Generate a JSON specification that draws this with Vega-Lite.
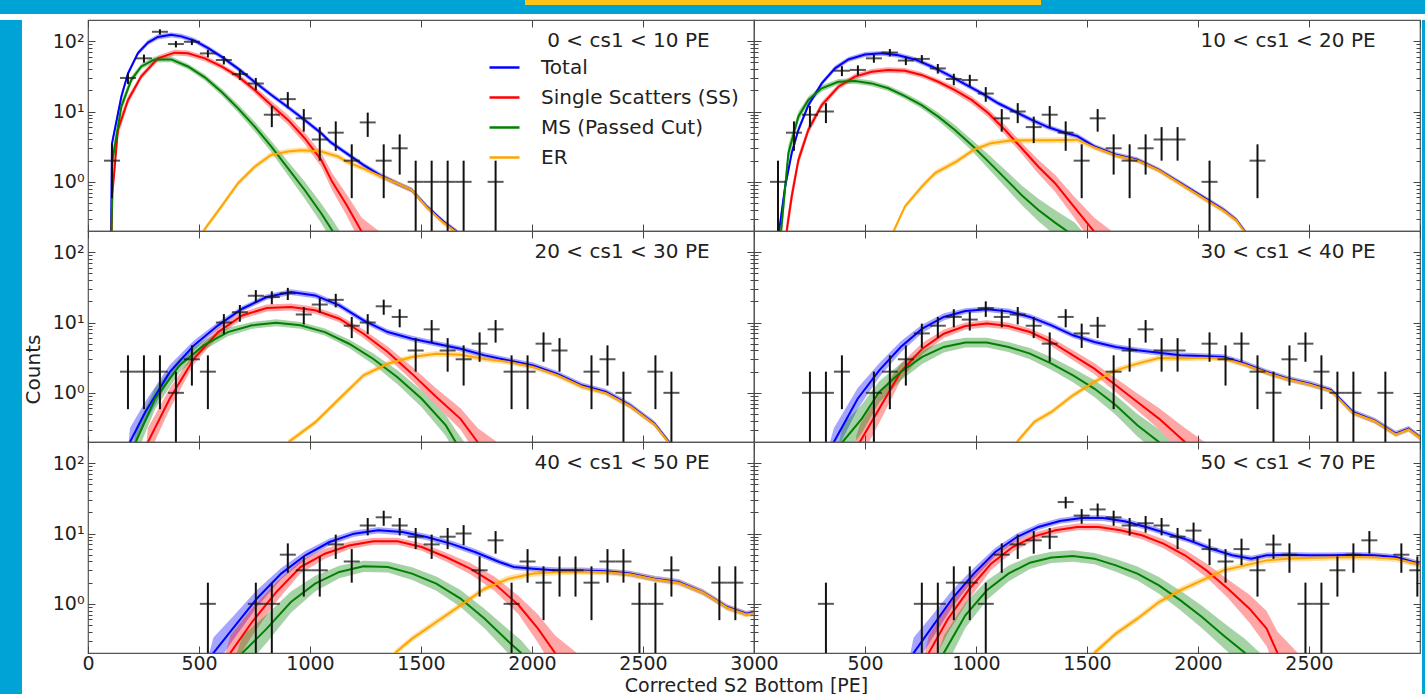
{
"$schema": "https://vega.github.io/schema/vega-lite/v6.json",
"background": "white",
"padding": 0,
"datasets": {
"labels": [
{"p":1,"label":"0 < cs1 < 10 PE"},{"p":2,"label":"10 < cs1 < 20 PE"},{"p":3,"label":"20 < cs1 < 30 PE"},
{"p":4,"label":"30 < cs1 < 40 PE"},{"p":5,"label":"40 < cs1 < 50 PE"},{"p":6,"label":"50 < cs1 < 70 PE"}],
"points": [
{"p":1,"x":108,"n":2,"lo":0.586,"hi":3.414},{"p":1,"x":180,"n":30,"lo":24.52,"hi":35.48},{"p":1,"x":252,"n":57,"lo":49.45,"hi":64.55},{"p":1,"x":324,"n":136,"lo":124.3,"hi":147.7},{"p":1,"x":396,"n":91,"lo":81.46,"hi":100.5},{"p":1,"x":468,"n":98,"lo":88.1,"hi":107.9},{"p":1,"x":540,"n":67,"lo":58.82,"hi":75.18},{"p":1,"x":612,"n":54,"lo":46.65,"hi":61.35},{"p":1,"x":684,"n":34,"lo":28.17,"hi":39.83},{"p":1,"x":756,"n":25,"lo":20,"hi":30},{"p":1,"x":828,"n":9,"lo":6,"hi":12},{"p":1,"x":900,"n":15,"lo":11.13,"hi":18.87},{"p":1,"x":972,"n":8,"lo":5.172,"hi":10.83},{"p":1,"x":1044,"n":4,"lo":2,"hi":6},{"p":1,"x":1116,"n":5,"lo":2.764,"hi":7.236},{"p":1,"x":1188,"n":2,"lo":0.586,"hi":3.414},{"p":1,"x":1260,"n":7,"lo":4.354,"hi":9.646},{"p":1,"x":1332,"n":2,"lo":0.586,"hi":3.414},{"p":1,"x":1404,"n":3,"lo":1.268,"hi":4.732},{"p":1,"x":1476,"n":1,"lo":0.01,"hi":2},{"p":1,"x":1548,"n":1,"lo":0.01,"hi":2},{"p":1,"x":1620,"n":1,"lo":0.01,"hi":2},{"p":1,"x":1692,"n":1,"lo":0.01,"hi":2},{"p":1,"x":1836,"n":1,"lo":0.01,"hi":2},
{"p":2,"x":108,"n":1,"lo":0.01,"hi":2},{"p":2,"x":180,"n":5,"lo":2.764,"hi":7.236},{"p":2,"x":252,"n":9,"lo":6,"hi":12},{"p":2,"x":324,"n":10,"lo":6.838,"hi":13.16},{"p":2,"x":396,"n":38,"lo":31.84,"hi":44.16},{"p":2,"x":468,"n":39,"lo":32.76,"hi":45.24},{"p":2,"x":540,"n":57,"lo":49.45,"hi":64.55},{"p":2,"x":612,"n":69,"lo":60.69,"hi":77.31},{"p":2,"x":684,"n":53,"lo":45.72,"hi":60.28},{"p":2,"x":756,"n":56,"lo":48.52,"hi":63.48},{"p":2,"x":828,"n":41,"lo":34.6,"hi":47.4},{"p":2,"x":900,"n":29,"lo":23.61,"hi":34.39},{"p":2,"x":972,"n":28,"lo":22.71,"hi":33.29},{"p":2,"x":1044,"n":18,"lo":13.76,"hi":22.24},{"p":2,"x":1116,"n":8,"lo":5.172,"hi":10.83},{"p":2,"x":1188,"n":10,"lo":6.838,"hi":13.16},{"p":2,"x":1260,"n":6,"lo":3.551,"hi":8.449},{"p":2,"x":1332,"n":9,"lo":6,"hi":12},{"p":2,"x":1404,"n":5,"lo":2.764,"hi":7.236},{"p":2,"x":1476,"n":2,"lo":0.586,"hi":3.414},{"p":2,"x":1548,"n":8,"lo":5.172,"hi":10.83},{"p":2,"x":1620,"n":3,"lo":1.268,"hi":4.732},{"p":2,"x":1692,"n":2,"lo":0.586,"hi":3.414},{"p":2,"x":1764,"n":3,"lo":1.268,"hi":4.732},{"p":2,"x":1836,"n":4,"lo":2,"hi":6},{"p":2,"x":1908,"n":4,"lo":2,"hi":6},{"p":2,"x":2052,"n":1,"lo":0.01,"hi":2},{"p":2,"x":2268,"n":2,"lo":0.586,"hi":3.414},
{"p":3,"x":180,"n":2,"lo":0.586,"hi":3.414},{"p":3,"x":252,"n":2,"lo":0.586,"hi":3.414},{"p":3,"x":324,"n":2,"lo":0.586,"hi":3.414},{"p":3,"x":396,"n":1,"lo":0.01,"hi":2},{"p":3,"x":468,"n":3,"lo":1.268,"hi":4.732},{"p":3,"x":540,"n":2,"lo":0.586,"hi":3.414},{"p":3,"x":612,"n":10,"lo":6.838,"hi":13.16},{"p":3,"x":684,"n":14,"lo":10.26,"hi":17.74},{"p":3,"x":756,"n":24,"lo":19.1,"hi":28.9},{"p":3,"x":828,"n":23,"lo":18.2,"hi":27.8},{"p":3,"x":900,"n":26,"lo":20.9,"hi":31.1},{"p":3,"x":972,"n":13,"lo":9.394,"hi":16.61},{"p":3,"x":1044,"n":18,"lo":13.76,"hi":22.24},{"p":3,"x":1116,"n":21,"lo":16.42,"hi":25.58},{"p":3,"x":1188,"n":9,"lo":6,"hi":12},{"p":3,"x":1260,"n":10,"lo":6.838,"hi":13.16},{"p":3,"x":1332,"n":17,"lo":12.88,"hi":21.12},{"p":3,"x":1404,"n":12,"lo":8.536,"hi":15.46},{"p":3,"x":1476,"n":4,"lo":2,"hi":6},{"p":3,"x":1548,"n":8,"lo":5.172,"hi":10.83},{"p":3,"x":1620,"n":4,"lo":2,"hi":6},{"p":3,"x":1692,"n":3,"lo":1.268,"hi":4.732},{"p":3,"x":1764,"n":5,"lo":2.764,"hi":7.236},{"p":3,"x":1836,"n":8,"lo":5.172,"hi":10.83},{"p":3,"x":1908,"n":2,"lo":0.586,"hi":3.414},{"p":3,"x":1980,"n":2,"lo":0.586,"hi":3.414},{"p":3,"x":2052,"n":5,"lo":2.764,"hi":7.236},{"p":3,"x":2124,"n":4,"lo":2,"hi":6},{"p":3,"x":2268,"n":2,"lo":0.586,"hi":3.414},{"p":3,"x":2340,"n":3,"lo":1.268,"hi":4.732},{"p":3,"x":2412,"n":1,"lo":0.01,"hi":2},{"p":3,"x":2556,"n":2,"lo":0.586,"hi":3.414},{"p":3,"x":2628,"n":1,"lo":0.01,"hi":2},
{"p":4,"x":252,"n":1,"lo":0.01,"hi":2},{"p":4,"x":324,"n":1,"lo":0.01,"hi":2},{"p":4,"x":396,"n":2,"lo":0.586,"hi":3.414},{"p":4,"x":540,"n":1,"lo":0.01,"hi":2},{"p":4,"x":612,"n":2,"lo":0.586,"hi":3.414},{"p":4,"x":684,"n":3,"lo":1.268,"hi":4.732},{"p":4,"x":756,"n":7,"lo":4.354,"hi":9.646},{"p":4,"x":828,"n":9,"lo":6,"hi":12},{"p":4,"x":900,"n":12,"lo":8.536,"hi":15.46},{"p":4,"x":972,"n":11,"lo":7.683,"hi":14.32},{"p":4,"x":1044,"n":16,"lo":12,"hi":20},{"p":4,"x":1116,"n":12,"lo":8.536,"hi":15.46},{"p":4,"x":1188,"n":13,"lo":9.394,"hi":16.61},{"p":4,"x":1260,"n":9,"lo":6,"hi":12},{"p":4,"x":1332,"n":5,"lo":2.764,"hi":7.236},{"p":4,"x":1404,"n":12,"lo":8.536,"hi":15.46},{"p":4,"x":1476,"n":7,"lo":4.354,"hi":9.646},{"p":4,"x":1548,"n":9,"lo":6,"hi":12},{"p":4,"x":1620,"n":2,"lo":0.586,"hi":3.414},{"p":4,"x":1692,"n":4,"lo":2,"hi":6},{"p":4,"x":1764,"n":8,"lo":5.172,"hi":10.83},{"p":4,"x":1836,"n":4,"lo":2,"hi":6},{"p":4,"x":1908,"n":4,"lo":2,"hi":6},{"p":4,"x":2052,"n":5,"lo":2.764,"hi":7.236},{"p":4,"x":2124,"n":3,"lo":1.268,"hi":4.732},{"p":4,"x":2196,"n":5,"lo":2.764,"hi":7.236},{"p":4,"x":2268,"n":2,"lo":0.586,"hi":3.414},{"p":4,"x":2340,"n":1,"lo":0.01,"hi":2},{"p":4,"x":2412,"n":3,"lo":1.268,"hi":4.732},{"p":4,"x":2484,"n":5,"lo":2.764,"hi":7.236},{"p":4,"x":2556,"n":2,"lo":0.586,"hi":3.414},{"p":4,"x":2628,"n":1,"lo":0.01,"hi":2},{"p":4,"x":2700,"n":1,"lo":0.01,"hi":2},{"p":4,"x":2844,"n":1,"lo":0.01,"hi":2},
{"p":5,"x":540,"n":1,"lo":0.01,"hi":2},{"p":5,"x":756,"n":1,"lo":0.01,"hi":2},{"p":5,"x":828,"n":1,"lo":0.01,"hi":2},{"p":5,"x":900,"n":5,"lo":2.764,"hi":7.236},{"p":5,"x":972,"n":3,"lo":1.268,"hi":4.732},{"p":5,"x":1044,"n":3,"lo":1.268,"hi":4.732},{"p":5,"x":1116,"n":7,"lo":4.354,"hi":9.646},{"p":5,"x":1188,"n":4,"lo":2,"hi":6},{"p":5,"x":1260,"n":13,"lo":9.394,"hi":16.61},{"p":5,"x":1332,"n":17,"lo":12.88,"hi":21.12},{"p":5,"x":1404,"n":13,"lo":9.394,"hi":16.61},{"p":5,"x":1476,"n":9,"lo":6,"hi":12},{"p":5,"x":1548,"n":7,"lo":4.354,"hi":9.646},{"p":5,"x":1620,"n":9,"lo":6,"hi":12},{"p":5,"x":1692,"n":10,"lo":6.838,"hi":13.16},{"p":5,"x":1764,"n":3,"lo":1.268,"hi":4.732},{"p":5,"x":1836,"n":8,"lo":5.172,"hi":10.83},{"p":5,"x":1908,"n":1,"lo":0.01,"hi":2},{"p":5,"x":1980,"n":4,"lo":2,"hi":6},{"p":5,"x":2052,"n":2,"lo":0.586,"hi":3.414},{"p":5,"x":2124,"n":3,"lo":1.268,"hi":4.732},{"p":5,"x":2196,"n":3,"lo":1.268,"hi":4.732},{"p":5,"x":2268,"n":2,"lo":0.586,"hi":3.414},{"p":5,"x":2340,"n":4,"lo":2,"hi":6},{"p":5,"x":2412,"n":4,"lo":2,"hi":6},{"p":5,"x":2484,"n":1,"lo":0.01,"hi":2},{"p":5,"x":2556,"n":1,"lo":0.01,"hi":2},{"p":5,"x":2628,"n":3,"lo":1.268,"hi":4.732},{"p":5,"x":2844,"n":2,"lo":0.586,"hi":3.414},{"p":5,"x":2916,"n":2,"lo":0.586,"hi":3.414},
{"p":6,"x":324,"n":1,"lo":0.01,"hi":2},{"p":6,"x":756,"n":1,"lo":0.01,"hi":2},{"p":6,"x":828,"n":1,"lo":0.01,"hi":2},{"p":6,"x":900,"n":2,"lo":0.586,"hi":3.414},{"p":6,"x":972,"n":2,"lo":0.586,"hi":3.414},{"p":6,"x":1044,"n":1,"lo":0.01,"hi":2},{"p":6,"x":1116,"n":5,"lo":2.764,"hi":7.236},{"p":6,"x":1188,"n":7,"lo":4.354,"hi":9.646},{"p":6,"x":1260,"n":8,"lo":5.172,"hi":10.83},{"p":6,"x":1332,"n":9,"lo":6,"hi":12},{"p":6,"x":1404,"n":28,"lo":22.71,"hi":33.29},{"p":6,"x":1476,"n":18,"lo":13.76,"hi":22.24},{"p":6,"x":1548,"n":22,"lo":17.31,"hi":26.69},{"p":6,"x":1620,"n":17,"lo":12.88,"hi":21.12},{"p":6,"x":1692,"n":13,"lo":9.394,"hi":16.61},{"p":6,"x":1764,"n":14,"lo":10.26,"hi":17.74},{"p":6,"x":1836,"n":13,"lo":9.394,"hi":16.61},{"p":6,"x":1908,"n":9,"lo":6,"hi":12},{"p":6,"x":1980,"n":11,"lo":7.683,"hi":14.32},{"p":6,"x":2052,"n":6,"lo":3.551,"hi":8.449},{"p":6,"x":2124,"n":4,"lo":2,"hi":6},{"p":6,"x":2196,"n":6,"lo":3.551,"hi":8.449},{"p":6,"x":2268,"n":3,"lo":1.268,"hi":4.732},{"p":6,"x":2340,"n":7,"lo":4.354,"hi":9.646},{"p":6,"x":2412,"n":5,"lo":2.764,"hi":7.236},{"p":6,"x":2484,"n":1,"lo":0.01,"hi":2},{"p":6,"x":2556,"n":1,"lo":0.01,"hi":2},{"p":6,"x":2628,"n":3,"lo":1.268,"hi":4.732},{"p":6,"x":2700,"n":5,"lo":2.764,"hi":7.236},{"p":6,"x":2772,"n":8,"lo":5.172,"hi":10.83},{"p":6,"x":2916,"n":5,"lo":2.764,"hi":7.236},{"p":6,"x":2988,"n":3,"lo":1.268,"hi":4.732}
],
"curves": [
{"p":1,"s":"Total","x":102,"y":0.05,"lo":0.045,"hi":0.055},{"p":1,"s":"Total","x":108,"y":3.5,"lo":3.05,"hi":4.02},{"p":1,"s":"Total","x":150,"y":16.2,"lo":14.1,"hi":18.6},{"p":1,"s":"Total","x":180,"y":34.7,"lo":31.5,"hi":38.2},{"p":1,"s":"Total","x":225,"y":67.6,"lo":62.4,"hi":73.3},{"p":1,"s":"Total","x":270,"y":95.5,"lo":88.1,"hi":103.5},{"p":1,"s":"Total","x":315,"y":115,"lo":106,"hi":125},{"p":1,"s":"Total","x":375,"y":123,"lo":113,"hi":133},{"p":1,"s":"Total","x":420,"y":117,"lo":108,"hi":127},{"p":1,"s":"Total","x":480,"y":102,"lo":94.1,"hi":110.6},{"p":1,"s":"Total","x":541,"y":79.4,"lo":73.2,"hi":86.1},{"p":1,"s":"Total","x":601,"y":60.3,"lo":55.6,"hi":65.4},{"p":1,"s":"Total","x":676,"y":40.7,"lo":37.5,"hi":44.1},{"p":1,"s":"Total","x":751,"y":26.3,"lo":24.3,"hi":28.5},{"p":1,"s":"Total","x":826,"y":17.2,"lo":15.9,"hi":18.6},{"p":1,"s":"Total","x":901,"y":11.5,"lo":10.6,"hi":12.5},{"p":1,"s":"Total","x":976,"y":7.59,"lo":7.0,"hi":8.23},{"p":1,"s":"Total","x":1051,"y":4.9,"lo":4.52,"hi":5.31},{"p":1,"s":"Total","x":1090,"y":3.72,"lo":3.43,"hi":4.03},{"p":1,"s":"Total","x":1165,"y":2.54,"lo":2.34,"hi":2.75},{"p":1,"s":"Total","x":1240,"y":1.74,"lo":1.61,"hi":1.89},{"p":1,"s":"Total","x":1315,"y":1.25,"lo":1.15,"hi":1.36},{"p":1,"s":"Total","x":1390,"y":0.955,"lo":0.88,"hi":1.035},{"p":1,"s":"Total","x":1458,"y":0.766,"lo":0.707,"hi":0.83},{"p":1,"s":"Total","x":1526,"y":0.447,"lo":0.412,"hi":0.485},{"p":1,"s":"Total","x":1601,"y":0.272,"lo":0.251,"hi":0.295},{"p":1,"s":"Total","x":1661,"y":0.195,"lo":0.18,"hi":0.211},{"p":1,"s":"Total","x":1700,"y":0.14,"lo":0.129,"hi":0.152},
{"p":1,"s":"Single Scatters (SS)","x":104,"y":0.1,"lo":0.08,"hi":0.125},{"p":1,"s":"Single Scatters (SS)","x":110,"y":0.69,"lo":0.49,"hi":0.97},{"p":1,"s":"Single Scatters (SS)","x":135,"y":5.5,"lo":4.37,"hi":6.92},{"p":1,"s":"Single Scatters (SS)","x":180,"y":14.5,"lo":12.6,"hi":16.6},{"p":1,"s":"Single Scatters (SS)","x":240,"y":31.6,"lo":28.8,"hi":34.6},{"p":1,"s":"Single Scatters (SS)","x":315,"y":57,"lo":52,"hi":62.5},{"p":1,"s":"Single Scatters (SS)","x":390,"y":68.7,"lo":62.7,"hi":75.3},{"p":1,"s":"Single Scatters (SS)","x":450,"y":67.1,"lo":61.2,"hi":73.5},{"p":1,"s":"Single Scatters (SS)","x":526,"y":57,"lo":52,"hi":62.5},{"p":1,"s":"Single Scatters (SS)","x":601,"y":43.7,"lo":39.9,"hi":47.9},{"p":1,"s":"Single Scatters (SS)","x":676,"y":31.6,"lo":28.8,"hi":34.6},{"p":1,"s":"Single Scatters (SS)","x":751,"y":20.2,"lo":18.0,"hi":22.7},{"p":1,"s":"Single Scatters (SS)","x":826,"y":12.3,"lo":10.7,"hi":14.1},{"p":1,"s":"Single Scatters (SS)","x":901,"y":7.59,"lo":6.46,"hi":8.91},{"p":1,"s":"Single Scatters (SS)","x":976,"y":4.17,"lo":3.47,"hi":5.01},{"p":1,"s":"Single Scatters (SS)","x":1051,"y":2.04,"lo":1.62,"hi":2.57},{"p":1,"s":"Single Scatters (SS)","x":1100,"y":1.0,"lo":0.759,"hi":1.32},{"p":1,"s":"Single Scatters (SS)","x":1165,"y":0.47,"lo":0.333,"hi":0.664},{"p":1,"s":"Single Scatters (SS)","x":1233,"y":0.195,"lo":0.123,"hi":0.309},{"p":1,"s":"Single Scatters (SS)","x":1310,"y":0.08,"lo":0.04,"hi":0.2},
{"p":1,"s":"MS (Passed Cut)","x":104,"y":0.05,"lo":0.04,"hi":0.06},{"p":1,"s":"MS (Passed Cut)","x":110,"y":2.0,"lo":1.42,"hi":2.83},{"p":1,"s":"MS (Passed Cut)","x":150,"y":11.7,"lo":9.73,"hi":14.1},{"p":1,"s":"MS (Passed Cut)","x":195,"y":28.2,"lo":25.1,"hi":31.6},{"p":1,"s":"MS (Passed Cut)","x":240,"y":43.7,"lo":39.9,"hi":47.9},{"p":1,"s":"MS (Passed Cut)","x":300,"y":55,"lo":50.2,"hi":60.3},{"p":1,"s":"MS (Passed Cut)","x":375,"y":55,"lo":50.2,"hi":60.3},{"p":1,"s":"MS (Passed Cut)","x":450,"y":43.7,"lo":39.9,"hi":47.9},{"p":1,"s":"MS (Passed Cut)","x":526,"y":30.6,"lo":27.6,"hi":33.9},{"p":1,"s":"MS (Passed Cut)","x":601,"y":19.1,"lo":17.0,"hi":21.4},{"p":1,"s":"MS (Passed Cut)","x":676,"y":11.1,"lo":9.67,"hi":12.7},{"p":1,"s":"MS (Passed Cut)","x":751,"y":6.1,"lo":5.19,"hi":7.17},{"p":1,"s":"MS (Passed Cut)","x":826,"y":3.16,"lo":2.63,"hi":3.8},{"p":1,"s":"MS (Passed Cut)","x":901,"y":1.55,"lo":1.23,"hi":1.95},{"p":1,"s":"MS (Passed Cut)","x":976,"y":0.766,"lo":0.581,"hi":1.01},{"p":1,"s":"MS (Passed Cut)","x":1051,"y":0.355,"lo":0.257,"hi":0.49},{"p":1,"s":"MS (Passed Cut)","x":1104,"y":0.195,"lo":0.135,"hi":0.282},{"p":1,"s":"MS (Passed Cut)","x":1150,"y":0.11,"lo":0.073,"hi":0.166},
{"p":1,"s":"ER","x":500,"y":0.1,"lo":0.091,"hi":0.11},{"p":1,"s":"ER","x":518,"y":0.195,"lo":0.178,"hi":0.214},{"p":1,"s":"ER","x":540,"y":0.245,"lo":0.224,"hi":0.269},{"p":1,"s":"ER","x":601,"y":0.447,"lo":0.408,"hi":0.49},{"p":1,"s":"ER","x":676,"y":0.955,"lo":0.871,"hi":1.047},{"p":1,"s":"ER","x":751,"y":1.64,"lo":1.5,"hi":1.8},{"p":1,"s":"ER","x":823,"y":2.4,"lo":2.19,"hi":2.63},{"p":1,"s":"ER","x":901,"y":2.69,"lo":2.45,"hi":2.95},{"p":1,"s":"ER","x":961,"y":2.82,"lo":2.57,"hi":3.09},{"p":1,"s":"ER","x":1051,"y":2.69,"lo":2.45,"hi":2.95},{"p":1,"s":"ER","x":1126,"y":2.29,"lo":2.09,"hi":2.51},{"p":1,"s":"ER","x":1165,"y":1.94,"lo":1.77,"hi":2.13},{"p":1,"s":"ER","x":1240,"y":1.55,"lo":1.41,"hi":1.7},{"p":1,"s":"ER","x":1315,"y":1.21,"lo":1.1,"hi":1.33},{"p":1,"s":"ER","x":1390,"y":0.955,"lo":0.871,"hi":1.047},{"p":1,"s":"ER","x":1458,"y":0.766,"lo":0.699,"hi":0.84},{"p":1,"s":"ER","x":1526,"y":0.436,"lo":0.398,"hi":0.478},{"p":1,"s":"ER","x":1601,"y":0.263,"lo":0.24,"hi":0.288},{"p":1,"s":"ER","x":1661,"y":0.19,"lo":0.173,"hi":0.208},{"p":1,"s":"ER","x":1700,"y":0.135,"lo":0.123,"hi":0.148},
{"p":2,"s":"Total","x":108,"y":0.05,"lo":0.045,"hi":0.055},{"p":2,"s":"Total","x":113,"y":0.2,"lo":0.17,"hi":0.235},{"p":2,"s":"Total","x":140,"y":0.85,"lo":0.707,"hi":1.02},{"p":2,"s":"Total","x":170,"y":2.57,"lo":2.24,"hi":2.95},{"p":2,"s":"Total","x":200,"y":5.5,"lo":4.9,"hi":6.17},{"p":2,"s":"Total","x":245,"y":12.3,"lo":11.2,"hi":13.5},{"p":2,"s":"Total","x":305,"y":25.1,"lo":23.2,"hi":27.2},{"p":2,"s":"Total","x":365,"y":41.1,"lo":37.9,"hi":44.6},{"p":2,"s":"Total","x":425,"y":55,"lo":50.7,"hi":59.6},{"p":2,"s":"Total","x":500,"y":64.6,"lo":59.6,"hi":70},{"p":2,"s":"Total","x":575,"y":67.1,"lo":61.9,"hi":72.7},{"p":2,"s":"Total","x":650,"y":63.1,"lo":58.2,"hi":68.4},{"p":2,"s":"Total","x":725,"y":55,"lo":50.7,"hi":59.6},{"p":2,"s":"Total","x":800,"y":43.7,"lo":40.3,"hi":47.4},{"p":2,"s":"Total","x":875,"y":33.1,"lo":30.5,"hi":35.9},{"p":2,"s":"Total","x":950,"y":24.5,"lo":22.6,"hi":26.6},{"p":2,"s":"Total","x":1025,"y":18.2,"lo":16.8,"hi":19.7},{"p":2,"s":"Total","x":1100,"y":13.1,"lo":12.1,"hi":14.2},{"p":2,"s":"Total","x":1176,"y":9.95,"lo":9.18,"hi":10.8},{"p":2,"s":"Total","x":1251,"y":7.59,"lo":7.0,"hi":8.23},{"p":2,"s":"Total","x":1326,"y":5.96,"lo":5.5,"hi":6.46},{"p":2,"s":"Total","x":1400,"y":5.0,"lo":4.61,"hi":5.42},{"p":2,"s":"Total","x":1456,"y":4.47,"lo":4.12,"hi":4.85},{"p":2,"s":"Total","x":1533,"y":3.19,"lo":2.94,"hi":3.46},{"p":2,"s":"Total","x":1630,"y":2.43,"lo":2.24,"hi":2.63},{"p":2,"s":"Total","x":1727,"y":2.06,"lo":1.9,"hi":2.23},{"p":2,"s":"Total","x":1824,"y":1.48,"lo":1.37,"hi":1.6},{"p":2,"s":"Total","x":1921,"y":0.96,"lo":0.886,"hi":1.04},{"p":2,"s":"Total","x":2018,"y":0.62,"lo":0.572,"hi":0.672},{"p":2,"s":"Total","x":2115,"y":0.4,"lo":0.369,"hi":0.434},{"p":2,"s":"Total","x":2173,"y":0.288,"lo":0.266,"hi":0.312},{"p":2,"s":"Total","x":2212,"y":0.195,"lo":0.18,"hi":0.211},{"p":2,"s":"Total","x":2240,"y":0.14,"lo":0.129,"hi":0.152},
{"p":2,"s":"Single Scatters (SS)","x":140,"y":0.05,"lo":0.04,"hi":0.063},{"p":2,"s":"Single Scatters (SS)","x":147,"y":0.2,"lo":0.142,"hi":0.283},{"p":2,"s":"Single Scatters (SS)","x":170,"y":0.62,"lo":0.47,"hi":0.817},{"p":2,"s":"Single Scatters (SS)","x":200,"y":2.04,"lo":1.7,"hi":2.45},{"p":2,"s":"Single Scatters (SS)","x":245,"y":5.5,"lo":4.79,"hi":6.31},{"p":2,"s":"Single Scatters (SS)","x":305,"y":12.3,"lo":11.0,"hi":13.8},{"p":2,"s":"Single Scatters (SS)","x":380,"y":22.5,"lo":20.5,"hi":24.7},{"p":2,"s":"Single Scatters (SS)","x":455,"y":31.3,"lo":28.6,"hi":34.3},{"p":2,"s":"Single Scatters (SS)","x":530,"y":36.8,"lo":33.6,"hi":40.3},{"p":2,"s":"Single Scatters (SS)","x":605,"y":38.9,"lo":35.5,"hi":42.6},{"p":2,"s":"Single Scatters (SS)","x":680,"y":38,"lo":34.7,"hi":41.6},{"p":2,"s":"Single Scatters (SS)","x":755,"y":33.1,"lo":30.2,"hi":36.3},{"p":2,"s":"Single Scatters (SS)","x":830,"y":26.5,"lo":24.2,"hi":29},{"p":2,"s":"Single Scatters (SS)","x":905,"y":20.2,"lo":18,"hi":22.7},{"p":2,"s":"Single Scatters (SS)","x":980,"y":14.6,"lo":12.9,"hi":16.5},{"p":2,"s":"Single Scatters (SS)","x":1056,"y":9.42,"lo":8.2,"hi":10.8},{"p":2,"s":"Single Scatters (SS)","x":1131,"y":5.46,"lo":4.65,"hi":6.41},{"p":2,"s":"Single Scatters (SS)","x":1206,"y":3.0,"lo":2.5,"hi":3.6},{"p":2,"s":"Single Scatters (SS)","x":1281,"y":1.64,"lo":1.3,"hi":2.06},{"p":2,"s":"Single Scatters (SS)","x":1356,"y":0.955,"lo":0.724,"hi":1.26},{"p":2,"s":"Single Scatters (SS)","x":1440,"y":0.447,"lo":0.316,"hi":0.631},{"p":2,"s":"Single Scatters (SS)","x":1533,"y":0.195,"lo":0.123,"hi":0.309},{"p":2,"s":"Single Scatters (SS)","x":1611,"y":0.08,"lo":0.04,"hi":0.2},
{"p":2,"s":"MS (Passed Cut)","x":118,"y":0.05,"lo":0.04,"hi":0.063},{"p":2,"s":"MS (Passed Cut)","x":122,"y":0.2,"lo":0.126,"hi":0.317},{"p":2,"s":"MS (Passed Cut)","x":155,"y":2.57,"lo":1.95,"hi":3.39},{"p":2,"s":"MS (Passed Cut)","x":200,"y":8.5,"lo":7.23,"hi":9.99},{"p":2,"s":"MS (Passed Cut)","x":245,"y":14.6,"lo":13,"hi":16.4},{"p":2,"s":"MS (Passed Cut)","x":305,"y":21.4,"lo":19.3,"hi":23.7},{"p":2,"s":"MS (Passed Cut)","x":380,"y":26.5,"lo":24.2,"hi":29},{"p":2,"s":"MS (Passed Cut)","x":455,"y":27.2,"lo":24.8,"hi":29.8},{"p":2,"s":"MS (Passed Cut)","x":530,"y":25.1,"lo":22.9,"hi":27.5},{"p":2,"s":"MS (Passed Cut)","x":605,"y":21.4,"lo":19.5,"hi":23.5},{"p":2,"s":"MS (Passed Cut)","x":680,"y":16.6,"lo":15,"hi":18.4},{"p":2,"s":"MS (Passed Cut)","x":755,"y":12.3,"lo":11,"hi":13.8},{"p":2,"s":"MS (Passed Cut)","x":830,"y":8.45,"lo":7.36,"hi":9.7},{"p":2,"s":"MS (Passed Cut)","x":905,"y":5.46,"lo":4.65,"hi":6.41},{"p":2,"s":"MS (Passed Cut)","x":980,"y":3.34,"lo":2.78,"hi":4.01},{"p":2,"s":"MS (Passed Cut)","x":1056,"y":1.94,"lo":1.54,"hi":2.44},{"p":2,"s":"MS (Passed Cut)","x":1131,"y":1.12,"lo":0.85,"hi":1.48},{"p":2,"s":"MS (Passed Cut)","x":1206,"y":0.646,"lo":0.469,"hi":0.89},{"p":2,"s":"MS (Passed Cut)","x":1281,"y":0.398,"lo":0.275,"hi":0.576},{"p":2,"s":"MS (Passed Cut)","x":1356,"y":0.263,"lo":0.174,"hi":0.398},{"p":2,"s":"MS (Passed Cut)","x":1446,"y":0.166,"lo":0.105,"hi":0.263},{"p":2,"s":"MS (Passed Cut)","x":1500,"y":0.1,"lo":0.06,"hi":0.166},
{"p":2,"s":"ER","x":600,"y":0.1,"lo":0.091,"hi":0.11},{"p":2,"s":"ER","x":622,"y":0.178,"lo":0.162,"hi":0.195},{"p":2,"s":"ER","x":680,"y":0.447,"lo":0.408,"hi":0.49},{"p":2,"s":"ER","x":757,"y":0.861,"lo":0.786,"hi":0.944},{"p":2,"s":"ER","x":816,"y":1.33,"lo":1.21,"hi":1.46},{"p":2,"s":"ER","x":913,"y":1.95,"lo":1.78,"hi":2.14},{"p":2,"s":"ER","x":990,"y":2.86,"lo":2.61,"hi":3.13},{"p":2,"s":"ER","x":1068,"y":3.55,"lo":3.24,"hi":3.89},{"p":2,"s":"ER","x":1146,"y":3.84,"lo":3.5,"hi":4.21},{"p":2,"s":"ER","x":1243,"y":3.89,"lo":3.55,"hi":4.26},{"p":2,"s":"ER","x":1340,"y":3.89,"lo":3.55,"hi":4.26},{"p":2,"s":"ER","x":1455,"y":3.98,"lo":3.63,"hi":4.36},{"p":2,"s":"ER","x":1533,"y":3.09,"lo":2.82,"hi":3.39},{"p":2,"s":"ER","x":1630,"y":2.37,"lo":2.16,"hi":2.6},{"p":2,"s":"ER","x":1727,"y":2.02,"lo":1.84,"hi":2.21},{"p":2,"s":"ER","x":1824,"y":1.45,"lo":1.32,"hi":1.59},{"p":2,"s":"ER","x":1921,"y":0.933,"lo":0.851,"hi":1.02},{"p":2,"s":"ER","x":2018,"y":0.6,"lo":0.547,"hi":0.658},{"p":2,"s":"ER","x":2115,"y":0.389,"lo":0.355,"hi":0.426},{"p":2,"s":"ER","x":2173,"y":0.282,"lo":0.257,"hi":0.309},{"p":2,"s":"ER","x":2212,"y":0.19,"lo":0.173,"hi":0.208},
{"p":3,"s":"Total","x":180,"y":0.1,"lo":0.063,"hi":0.158},{"p":3,"s":"Total","x":189,"y":0.2,"lo":0.126,"hi":0.317},{"p":3,"s":"Total","x":259,"y":0.537,"lo":0.38,"hi":0.759},{"p":3,"s":"Total","x":368,"y":1.97,"lo":1.56,"hi":2.48},{"p":3,"s":"Total","x":477,"y":4.73,"lo":4.03,"hi":5.56},{"p":3,"s":"Total","x":586,"y":9.12,"lo":8.13,"hi":10.2},{"p":3,"s":"Total","x":695,"y":15.7,"lo":14.3,"hi":17.2},{"p":3,"s":"Total","x":805,"y":23,"lo":21,"hi":25.2},{"p":3,"s":"Total","x":914,"y":27.1,"lo":24.7,"hi":29.7},{"p":3,"s":"Total","x":1023,"y":24.3,"lo":22.2,"hi":26.6},{"p":3,"s":"Total","x":1132,"y":17.5,"lo":16,"hi":19.2},{"p":3,"s":"Total","x":1241,"y":10.7,"lo":9.76,"hi":11.7},{"p":3,"s":"Total","x":1350,"y":7.31,"lo":6.67,"hi":8.01},{"p":3,"s":"Total","x":1460,"y":5.89,"lo":5.37,"hi":6.46},{"p":3,"s":"Total","x":1569,"y":4.99,"lo":4.55,"hi":5.47},{"p":3,"s":"Total","x":1678,"y":4.24,"lo":3.87,"hi":4.65},{"p":3,"s":"Total","x":1787,"y":3.41,"lo":3.11,"hi":3.74},{"p":3,"s":"Total","x":1896,"y":2.88,"lo":2.63,"hi":3.16},{"p":3,"s":"Total","x":2005,"y":2.45,"lo":2.24,"hi":2.69},{"p":3,"s":"Total","x":2114,"y":1.86,"lo":1.7,"hi":2.04},{"p":3,"s":"Total","x":2224,"y":1.28,"lo":1.17,"hi":1.4},{"p":3,"s":"Total","x":2333,"y":1.03,"lo":0.94,"hi":1.13},{"p":3,"s":"Total","x":2442,"y":0.664,"lo":0.606,"hi":0.728},{"p":3,"s":"Total","x":2552,"y":0.363,"lo":0.331,"hi":0.398},{"p":3,"s":"Total","x":2617,"y":0.2,"lo":0.182,"hi":0.219},{"p":3,"s":"Total","x":2650,"y":0.14,"lo":0.128,"hi":0.153},
{"p":3,"s":"Single Scatters (SS)","x":260,"y":0.1,"lo":0.063,"hi":0.158},{"p":3,"s":"Single Scatters (SS)","x":270,"y":0.2,"lo":0.126,"hi":0.317},{"p":3,"s":"Single Scatters (SS)","x":368,"y":0.822,"lo":0.582,"hi":1.16},{"p":3,"s":"Single Scatters (SS)","x":477,"y":3.05,"lo":2.54,"hi":3.66},{"p":3,"s":"Single Scatters (SS)","x":586,"y":7.31,"lo":6.37,"hi":8.39},{"p":3,"s":"Single Scatters (SS)","x":695,"y":12.6,"lo":11.2,"hi":14.1},{"p":3,"s":"Single Scatters (SS)","x":805,"y":16.1,"lo":14.3,"hi":18.1},{"p":3,"s":"Single Scatters (SS)","x":914,"y":16.6,"lo":14.8,"hi":18.6},{"p":3,"s":"Single Scatters (SS)","x":1023,"y":14.9,"lo":13.3,"hi":16.7},{"p":3,"s":"Single Scatters (SS)","x":1132,"y":11.3,"lo":10.1,"hi":12.7},{"p":3,"s":"Single Scatters (SS)","x":1241,"y":6.92,"lo":6.03,"hi":7.94},{"p":3,"s":"Single Scatters (SS)","x":1350,"y":3.8,"lo":3.16,"hi":4.57},{"p":3,"s":"Single Scatters (SS)","x":1460,"y":1.86,"lo":1.48,"hi":2.34},{"p":3,"s":"Single Scatters (SS)","x":1569,"y":0.871,"lo":0.661,"hi":1.15},{"p":3,"s":"Single Scatters (SS)","x":1678,"y":0.427,"lo":0.302,"hi":0.603},{"p":3,"s":"Single Scatters (SS)","x":1755,"y":0.2,"lo":0.126,"hi":0.317},{"p":3,"s":"Single Scatters (SS)","x":1842,"y":0.08,"lo":0.04,"hi":0.2},
{"p":3,"s":"MS (Passed Cut)","x":205,"y":0.1,"lo":0.063,"hi":0.158},{"p":3,"s":"MS (Passed Cut)","x":215,"y":0.2,"lo":0.126,"hi":0.317},{"p":3,"s":"MS (Passed Cut)","x":302,"y":0.822,"lo":0.582,"hi":1.16},{"p":3,"s":"MS (Passed Cut)","x":412,"y":2.45,"lo":1.95,"hi":3.08},{"p":3,"s":"MS (Passed Cut)","x":521,"y":4.73,"lo":4.03,"hi":5.56},{"p":3,"s":"MS (Passed Cut)","x":630,"y":7.31,"lo":6.37,"hi":8.39},{"p":3,"s":"MS (Passed Cut)","x":739,"y":9.12,"lo":8.13,"hi":10.2},{"p":3,"s":"MS (Passed Cut)","x":848,"y":9.93,"lo":8.85,"hi":11.1},{"p":3,"s":"MS (Passed Cut)","x":957,"y":9.12,"lo":8.13,"hi":10.2},{"p":3,"s":"MS (Passed Cut)","x":1067,"y":7.31,"lo":6.51,"hi":8.2},{"p":3,"s":"MS (Passed Cut)","x":1176,"y":4.99,"lo":4.35,"hi":5.73},{"p":3,"s":"MS (Passed Cut)","x":1284,"y":3.05,"lo":2.54,"hi":3.66},{"p":3,"s":"MS (Passed Cut)","x":1394,"y":1.67,"lo":1.33,"hi":2.1},{"p":3,"s":"MS (Passed Cut)","x":1503,"y":0.822,"lo":0.624,"hi":1.08},{"p":3,"s":"MS (Passed Cut)","x":1612,"y":0.344,"lo":0.243,"hi":0.486},{"p":3,"s":"MS (Passed Cut)","x":1656,"y":0.2,"lo":0.135,"hi":0.296},{"p":3,"s":"MS (Passed Cut)","x":1700,"y":0.12,"lo":0.076,"hi":0.19},
{"p":3,"s":"ER","x":890,"y":0.15,"lo":0.137,"hi":0.164},{"p":3,"s":"ER","x":903,"y":0.2,"lo":0.182,"hi":0.219},{"p":3,"s":"ER","x":1023,"y":0.38,"lo":0.347,"hi":0.416},{"p":3,"s":"ER","x":1132,"y":0.822,"lo":0.75,"hi":0.901},{"p":3,"s":"ER","x":1241,"y":1.77,"lo":1.61,"hi":1.94},{"p":3,"s":"ER","x":1350,"y":2.59,"lo":2.36,"hi":2.84},{"p":3,"s":"ER","x":1460,"y":3.24,"lo":2.96,"hi":3.55},{"p":3,"s":"ER","x":1569,"y":3.6,"lo":3.28,"hi":3.95},{"p":3,"s":"ER","x":1678,"y":3.47,"lo":3.17,"hi":3.8},{"p":3,"s":"ER","x":1787,"y":3.02,"lo":2.76,"hi":3.31},{"p":3,"s":"ER","x":1896,"y":2.75,"lo":2.51,"hi":3.01},{"p":3,"s":"ER","x":2005,"y":2.34,"lo":2.13,"hi":2.56},{"p":3,"s":"ER","x":2114,"y":1.78,"lo":1.62,"hi":1.95},{"p":3,"s":"ER","x":2224,"y":1.23,"lo":1.12,"hi":1.35},{"p":3,"s":"ER","x":2333,"y":0.99,"lo":0.903,"hi":1.085},{"p":3,"s":"ER","x":2442,"y":0.646,"lo":0.589,"hi":0.708},{"p":3,"s":"ER","x":2552,"y":0.355,"lo":0.324,"hi":0.389},{"p":3,"s":"ER","x":2617,"y":0.195,"lo":0.178,"hi":0.214},
{"p":4,"s":"Total","x":340,"y":0.12,"lo":0.076,"hi":0.19},{"p":4,"s":"Total","x":360,"y":0.2,"lo":0.126,"hi":0.317},{"p":4,"s":"Total","x":467,"y":0.826,"lo":0.585,"hi":1.17},{"p":4,"s":"Total","x":564,"y":2.09,"lo":1.66,"hi":2.63},{"p":4,"s":"Total","x":661,"y":4.49,"lo":3.74,"hi":5.4},{"p":4,"s":"Total","x":758,"y":8.18,"lo":7.12,"hi":9.39},{"p":4,"s":"Total","x":855,"y":12,"lo":10.7,"hi":13.5},{"p":4,"s":"Total","x":952,"y":14.6,"lo":13.3,"hi":16},{"p":4,"s":"Total","x":1049,"y":15.4,"lo":14.1,"hi":16.9},{"p":4,"s":"Total","x":1146,"y":14.4,"lo":13.1,"hi":15.8},{"p":4,"s":"Total","x":1243,"y":12,"lo":10.9,"hi":13.2},{"p":4,"s":"Total","x":1340,"y":9.12,"lo":8.32,"hi":10},{"p":4,"s":"Total","x":1437,"y":6.58,"lo":6,"hi":7.21},{"p":4,"s":"Total","x":1533,"y":5.28,"lo":4.82,"hi":5.79},{"p":4,"s":"Total","x":1630,"y":4.49,"lo":4.1,"hi":4.92},{"p":4,"s":"Total","x":1727,"y":4.03,"lo":3.68,"hi":4.42},{"p":4,"s":"Total","x":1824,"y":3.72,"lo":3.39,"hi":4.08},{"p":4,"s":"Total","x":1921,"y":3.42,"lo":3.12,"hi":3.75},{"p":4,"s":"Total","x":2018,"y":3.34,"lo":3.05,"hi":3.66},{"p":4,"s":"Total","x":2115,"y":3.24,"lo":2.96,"hi":3.55},{"p":4,"s":"Total","x":2212,"y":2.6,"lo":2.37,"hi":2.85},{"p":4,"s":"Total","x":2309,"y":1.98,"lo":1.81,"hi":2.17},{"p":4,"s":"Total","x":2406,"y":1.59,"lo":1.45,"hi":1.74},{"p":4,"s":"Total","x":2503,"y":1.35,"lo":1.23,"hi":1.48},{"p":4,"s":"Total","x":2600,"y":1.09,"lo":0.995,"hi":1.19},{"p":4,"s":"Total","x":2697,"y":0.535,"lo":0.488,"hi":0.586},{"p":4,"s":"Total","x":2794,"y":0.407,"lo":0.371,"hi":0.446},{"p":4,"s":"Total","x":2891,"y":0.263,"lo":0.24,"hi":0.288},{"p":4,"s":"Total","x":2949,"y":0.309,"lo":0.282,"hi":0.339},{"p":4,"s":"Total","x":3000,"y":0.234,"lo":0.213,"hi":0.256},
{"p":4,"s":"Single Scatters (SS)","x":460,"y":0.12,"lo":0.06,"hi":0.24},{"p":4,"s":"Single Scatters (SS)","x":477,"y":0.2,"lo":0.112,"hi":0.356},{"p":4,"s":"Single Scatters (SS)","x":564,"y":0.596,"lo":0.376,"hi":0.945},{"p":4,"s":"Single Scatters (SS)","x":661,"y":1.98,"lo":1.5,"hi":2.61},{"p":4,"s":"Single Scatters (SS)","x":758,"y":4.25,"lo":3.54,"hi":5.1},{"p":4,"s":"Single Scatters (SS)","x":855,"y":6.93,"lo":6.04,"hi":7.96},{"p":4,"s":"Single Scatters (SS)","x":952,"y":8.91,"lo":7.94,"hi":10},{"p":4,"s":"Single Scatters (SS)","x":1049,"y":9.64,"lo":8.59,"hi":10.8},{"p":4,"s":"Single Scatters (SS)","x":1146,"y":8.91,"lo":7.94,"hi":10},{"p":4,"s":"Single Scatters (SS)","x":1243,"y":7.33,"lo":6.53,"hi":8.22},{"p":4,"s":"Single Scatters (SS)","x":1340,"y":5.28,"lo":4.6,"hi":6.06},{"p":4,"s":"Single Scatters (SS)","x":1437,"y":3.42,"lo":2.91,"hi":4.02},{"p":4,"s":"Single Scatters (SS)","x":1533,"y":2.21,"lo":1.84,"hi":2.65},{"p":4,"s":"Single Scatters (SS)","x":1630,"y":1.28,"lo":1.02,"hi":1.61},{"p":4,"s":"Single Scatters (SS)","x":1727,"y":0.741,"lo":0.562,"hi":0.977},{"p":4,"s":"Single Scatters (SS)","x":1824,"y":0.43,"lo":0.304,"hi":0.607},{"p":4,"s":"Single Scatters (SS)","x":1941,"y":0.2,"lo":0.126,"hi":0.317},{"p":4,"s":"Single Scatters (SS)","x":2030,"y":0.08,"lo":0.04,"hi":0.2},
{"p":4,"s":"MS (Passed Cut)","x":380,"y":0.1,"lo":0.06,"hi":0.17},{"p":4,"s":"MS (Passed Cut)","x":399,"y":0.2,"lo":0.112,"hi":0.356},{"p":4,"s":"MS (Passed Cut)","x":486,"y":0.43,"lo":0.271,"hi":0.682},{"p":4,"s":"MS (Passed Cut)","x":564,"y":1.03,"lo":0.729,"hi":1.46},{"p":4,"s":"MS (Passed Cut)","x":661,"y":1.98,"lo":1.5,"hi":2.61},{"p":4,"s":"MS (Passed Cut)","x":758,"y":3.24,"lo":2.57,"hi":4.08},{"p":4,"s":"MS (Passed Cut)","x":855,"y":4.49,"lo":3.74,"hi":5.4},{"p":4,"s":"MS (Passed Cut)","x":952,"y":5.18,"lo":4.41,"hi":6.09},{"p":4,"s":"MS (Passed Cut)","x":1049,"y":5.18,"lo":4.41,"hi":6.09},{"p":4,"s":"MS (Passed Cut)","x":1146,"y":4.49,"lo":3.82,"hi":5.27},{"p":4,"s":"MS (Passed Cut)","x":1243,"y":3.61,"lo":3,"hi":4.34},{"p":4,"s":"MS (Passed Cut)","x":1340,"y":2.6,"lo":2.11,"hi":3.2},{"p":4,"s":"MS (Passed Cut)","x":1437,"y":1.77,"lo":1.41,"hi":2.23},{"p":4,"s":"MS (Passed Cut)","x":1533,"y":1.15,"lo":0.873,"hi":1.52},{"p":4,"s":"MS (Passed Cut)","x":1630,"y":0.665,"lo":0.483,"hi":0.916},{"p":4,"s":"MS (Passed Cut)","x":1727,"y":0.347,"lo":0.24,"hi":0.502},{"p":4,"s":"MS (Passed Cut)","x":1824,"y":0.2,"lo":0.132,"hi":0.303},{"p":4,"s":"MS (Passed Cut)","x":1880,"y":0.12,"lo":0.07,"hi":0.2},
{"p":4,"s":"ER","x":1160,"y":0.12,"lo":0.11,"hi":0.132},{"p":4,"s":"ER","x":1184,"y":0.2,"lo":0.182,"hi":0.219},{"p":4,"s":"ER","x":1262,"y":0.385,"lo":0.351,"hi":0.422},{"p":4,"s":"ER","x":1340,"y":0.535,"lo":0.488,"hi":0.586},{"p":4,"s":"ER","x":1437,"y":0.923,"lo":0.842,"hi":1.01},{"p":4,"s":"ER","x":1533,"y":1.43,"lo":1.3,"hi":1.57},{"p":4,"s":"ER","x":1630,"y":2.09,"lo":1.91,"hi":2.29},{"p":4,"s":"ER","x":1727,"y":2.6,"lo":2.37,"hi":2.85},{"p":4,"s":"ER","x":1824,"y":3.13,"lo":2.86,"hi":3.43},{"p":4,"s":"ER","x":1921,"y":3.09,"lo":2.82,"hi":3.39},{"p":4,"s":"ER","x":2018,"y":3.16,"lo":2.88,"hi":3.46},{"p":4,"s":"ER","x":2115,"y":3.09,"lo":2.82,"hi":3.39},{"p":4,"s":"ER","x":2212,"y":2.51,"lo":2.29,"hi":2.75},{"p":4,"s":"ER","x":2309,"y":1.93,"lo":1.76,"hi":2.12},{"p":4,"s":"ER","x":2406,"y":1.55,"lo":1.41,"hi":1.7},{"p":4,"s":"ER","x":2503,"y":1.32,"lo":1.2,"hi":1.45},{"p":4,"s":"ER","x":2600,"y":1.06,"lo":0.967,"hi":1.16},{"p":4,"s":"ER","x":2697,"y":0.519,"lo":0.474,"hi":0.569},{"p":4,"s":"ER","x":2794,"y":0.398,"lo":0.363,"hi":0.436},{"p":4,"s":"ER","x":2891,"y":0.257,"lo":0.234,"hi":0.282},{"p":4,"s":"ER","x":2949,"y":0.302,"lo":0.276,"hi":0.331},{"p":4,"s":"ER","x":3000,"y":0.229,"lo":0.209,"hi":0.251},
{"p":5,"s":"Total","x":540,"y":0.1,"lo":0.06,"hi":0.17},{"p":5,"s":"Total","x":565,"y":0.2,"lo":0.12,"hi":0.332},{"p":5,"s":"Total","x":652,"y":0.444,"lo":0.3,"hi":0.657},{"p":5,"s":"Total","x":761,"y":1.19,"lo":0.903,"hi":1.57},{"p":5,"s":"Total","x":870,"y":2.69,"lo":2.24,"hi":3.23},{"p":5,"s":"Total","x":979,"y":4.9,"lo":4.27,"hi":5.63},{"p":5,"s":"Total","x":1088,"y":7.57,"lo":6.75,"hi":8.49},{"p":5,"s":"Total","x":1198,"y":9.95,"lo":8.97,"hi":11},{"p":5,"s":"Total","x":1307,"y":11.1,"lo":10,"hi":12.3},{"p":5,"s":"Total","x":1416,"y":10.5,"lo":9.47,"hi":11.6},{"p":5,"s":"Total","x":1525,"y":8.91,"lo":8.03,"hi":9.88},{"p":5,"s":"Total","x":1634,"y":7.18,"lo":6.48,"hi":7.96},{"p":5,"s":"Total","x":1743,"y":5.46,"lo":4.92,"hi":6.05},{"p":5,"s":"Total","x":1853,"y":3.94,"lo":3.59,"hi":4.32},{"p":5,"s":"Total","x":1918,"y":3.34,"lo":3.05,"hi":3.66},{"p":5,"s":"Total","x":2006,"y":3.16,"lo":2.88,"hi":3.46},{"p":5,"s":"Total","x":2115,"y":2.99,"lo":2.73,"hi":3.28},{"p":5,"s":"Total","x":2224,"y":2.99,"lo":2.73,"hi":3.28},{"p":5,"s":"Total","x":2333,"y":2.9,"lo":2.65,"hi":3.18},{"p":5,"s":"Total","x":2442,"y":2.69,"lo":2.45,"hi":2.95},{"p":5,"s":"Total","x":2551,"y":2.28,"lo":2.08,"hi":2.5},{"p":5,"s":"Total","x":2661,"y":2.05,"lo":1.87,"hi":2.25},{"p":5,"s":"Total","x":2770,"y":1.47,"lo":1.34,"hi":1.61},{"p":5,"s":"Total","x":2879,"y":0.902,"lo":0.823,"hi":0.989},{"p":5,"s":"Total","x":2966,"y":0.724,"lo":0.661,"hi":0.794},{"p":5,"s":"Total","x":3000,"y":0.76,"lo":0.693,"hi":0.833},
{"p":5,"s":"Single Scatters (SS)","x":620,"y":0.1,"lo":0.05,"hi":0.2},{"p":5,"s":"Single Scatters (SS)","x":641,"y":0.2,"lo":0.112,"hi":0.356},{"p":5,"s":"Single Scatters (SS)","x":739,"y":0.552,"lo":0.348,"hi":0.875},{"p":5,"s":"Single Scatters (SS)","x":848,"y":1.47,"lo":1.07,"hi":2.03},{"p":5,"s":"Single Scatters (SS)","x":957,"y":3.34,"lo":2.72,"hi":4.11},{"p":5,"s":"Single Scatters (SS)","x":1067,"y":5.16,"lo":4.39,"hi":6.06},{"p":5,"s":"Single Scatters (SS)","x":1176,"y":6.76,"lo":5.96,"hi":7.66},{"p":5,"s":"Single Scatters (SS)","x":1285,"y":7.74,"lo":6.9,"hi":8.68},{"p":5,"s":"Single Scatters (SS)","x":1394,"y":7.74,"lo":6.9,"hi":8.68},{"p":5,"s":"Single Scatters (SS)","x":1503,"y":6.43,"lo":5.67,"hi":7.29},{"p":5,"s":"Single Scatters (SS)","x":1612,"y":4.63,"lo":3.99,"hi":5.37},{"p":5,"s":"Single Scatters (SS)","x":1722,"y":3.16,"lo":2.63,"hi":3.8},{"p":5,"s":"Single Scatters (SS)","x":1831,"y":1.94,"lo":1.54,"hi":2.44},{"p":5,"s":"Single Scatters (SS)","x":1940,"y":0.953,"lo":0.706,"hi":1.29},{"p":5,"s":"Single Scatters (SS)","x":2027,"y":0.444,"lo":0.28,"hi":0.704},{"p":5,"s":"Single Scatters (SS)","x":2104,"y":0.2,"lo":0.112,"hi":0.356},{"p":5,"s":"Single Scatters (SS)","x":2202,"y":0.08,"lo":0.04,"hi":0.2},
{"p":5,"s":"MS (Passed Cut)","x":670,"y":0.1,"lo":0.05,"hi":0.2},{"p":5,"s":"MS (Passed Cut)","x":695,"y":0.2,"lo":0.112,"hi":0.356},{"p":5,"s":"MS (Passed Cut)","x":805,"y":0.444,"lo":0.28,"hi":0.704},{"p":5,"s":"MS (Passed Cut)","x":914,"y":1.06,"lo":0.75,"hi":1.5},{"p":5,"s":"MS (Passed Cut)","x":1023,"y":1.94,"lo":1.5,"hi":2.5},{"p":5,"s":"MS (Passed Cut)","x":1132,"y":2.84,"lo":2.31,"hi":3.49},{"p":5,"s":"MS (Passed Cut)","x":1241,"y":3.41,"lo":2.84,"hi":4.09},{"p":5,"s":"MS (Passed Cut)","x":1351,"y":3.34,"lo":2.78,"hi":4.01},{"p":5,"s":"MS (Passed Cut)","x":1460,"y":2.69,"lo":2.19,"hi":3.31},{"p":5,"s":"MS (Passed Cut)","x":1569,"y":1.94,"lo":1.54,"hi":2.44},{"p":5,"s":"MS (Passed Cut)","x":1678,"y":1.19,"lo":0.903,"hi":1.57},{"p":5,"s":"MS (Passed Cut)","x":1787,"y":0.615,"lo":0.447,"hi":0.847},{"p":5,"s":"MS (Passed Cut)","x":1896,"y":0.286,"lo":0.193,"hi":0.423},{"p":5,"s":"MS (Passed Cut)","x":1951,"y":0.2,"lo":0.132,"hi":0.303},{"p":5,"s":"MS (Passed Cut)","x":2000,"y":0.12,"lo":0.07,"hi":0.2},
{"p":5,"s":"ER","x":1370,"y":0.15,"lo":0.135,"hi":0.166},{"p":5,"s":"ER","x":1383,"y":0.2,"lo":0.18,"hi":0.222},{"p":5,"s":"ER","x":1460,"y":0.32,"lo":0.289,"hi":0.355},{"p":5,"s":"ER","x":1569,"y":0.552,"lo":0.498,"hi":0.612},{"p":5,"s":"ER","x":1678,"y":0.953,"lo":0.859,"hi":1.057},{"p":5,"s":"ER","x":1787,"y":1.64,"lo":1.48,"hi":1.82},{"p":5,"s":"ER","x":1896,"y":2.28,"lo":2.06,"hi":2.53},{"p":5,"s":"ER","x":2006,"y":2.69,"lo":2.43,"hi":2.98},{"p":5,"s":"ER","x":2115,"y":2.84,"lo":2.56,"hi":3.15},{"p":5,"s":"ER","x":2224,"y":2.88,"lo":2.6,"hi":3.19},{"p":5,"s":"ER","x":2333,"y":2.82,"lo":2.54,"hi":3.13},{"p":5,"s":"ER","x":2442,"y":2.63,"lo":2.37,"hi":2.92},{"p":5,"s":"ER","x":2551,"y":2.24,"lo":2.02,"hi":2.48},{"p":5,"s":"ER","x":2661,"y":2.0,"lo":1.8,"hi":2.22},{"p":5,"s":"ER","x":2770,"y":1.45,"lo":1.31,"hi":1.61},{"p":5,"s":"ER","x":2879,"y":0.881,"lo":0.794,"hi":0.977},{"p":5,"s":"ER","x":2966,"y":0.708,"lo":0.638,"hi":0.785},{"p":5,"s":"ER","x":3000,"y":0.741,"lo":0.668,"hi":0.822},
{"p":6,"s":"Total","x":700,"y":0.1,"lo":0.06,"hi":0.17},{"p":6,"s":"Total","x":719,"y":0.2,"lo":0.12,"hi":0.332},{"p":6,"s":"Total","x":797,"y":0.444,"lo":0.3,"hi":0.657},{"p":6,"s":"Total","x":893,"y":1.19,"lo":0.903,"hi":1.57},{"p":6,"s":"Total","x":990,"y":2.69,"lo":2.24,"hi":3.23},{"p":6,"s":"Total","x":1087,"y":5.46,"lo":4.76,"hi":6.27},{"p":6,"s":"Total","x":1184,"y":8.91,"lo":7.94,"hi":10},{"p":6,"s":"Total","x":1281,"y":12.4,"lo":11.2,"hi":13.8},{"p":6,"s":"Total","x":1378,"y":15.1,"lo":13.8,"hi":16.6},{"p":6,"s":"Total","x":1475,"y":16.6,"lo":15.1,"hi":18.2},{"p":6,"s":"Total","x":1572,"y":16.6,"lo":15.1,"hi":18.2},{"p":6,"s":"Total","x":1669,"y":14.9,"lo":13.6,"hi":16.3},{"p":6,"s":"Total","x":1766,"y":12.4,"lo":11.3,"hi":13.6},{"p":6,"s":"Total","x":1863,"y":9.95,"lo":9.08,"hi":10.9},{"p":6,"s":"Total","x":1960,"y":8.0,"lo":7.3,"hi":8.77},{"p":6,"s":"Total","x":2057,"y":6.1,"lo":5.57,"hi":6.69},{"p":6,"s":"Total","x":2154,"y":4.9,"lo":4.47,"hi":5.37},{"p":6,"s":"Total","x":2241,"y":4.39,"lo":4.01,"hi":4.81},{"p":6,"s":"Total","x":2309,"y":4.9,"lo":4.47,"hi":5.37},{"p":6,"s":"Total","x":2406,"y":5.0,"lo":4.56,"hi":5.48},{"p":6,"s":"Total","x":2503,"y":4.9,"lo":4.47,"hi":5.37},{"p":6,"s":"Total","x":2600,"y":4.9,"lo":4.47,"hi":5.37},{"p":6,"s":"Total","x":2697,"y":5.0,"lo":4.56,"hi":5.48},{"p":6,"s":"Total","x":2794,"y":4.9,"lo":4.47,"hi":5.37},{"p":6,"s":"Total","x":2891,"y":4.63,"lo":4.22,"hi":5.07},{"p":6,"s":"Total","x":2998,"y":3.72,"lo":3.39,"hi":4.08},
{"p":6,"s":"Single Scatters (SS)","x":770,"y":0.1,"lo":0.05,"hi":0.2},{"p":6,"s":"Single Scatters (SS)","x":787,"y":0.2,"lo":0.112,"hi":0.356},{"p":6,"s":"Single Scatters (SS)","x":874,"y":0.615,"lo":0.388,"hi":0.975},{"p":6,"s":"Single Scatters (SS)","x":971,"y":1.64,"lo":1.19,"hi":2.26},{"p":6,"s":"Single Scatters (SS)","x":1068,"y":3.72,"lo":3.02,"hi":4.58},{"p":6,"s":"Single Scatters (SS)","x":1165,"y":6.43,"lo":5.47,"hi":7.55},{"p":6,"s":"Single Scatters (SS)","x":1262,"y":9.12,"lo":8.04,"hi":10.3},{"p":6,"s":"Single Scatters (SS)","x":1359,"y":11.1,"lo":9.89,"hi":12.5},{"p":6,"s":"Single Scatters (SS)","x":1456,"y":12.4,"lo":11.1,"hi":13.9},{"p":6,"s":"Single Scatters (SS)","x":1553,"y":12.4,"lo":11.1,"hi":13.9},{"p":6,"s":"Single Scatters (SS)","x":1650,"y":11.1,"lo":9.89,"hi":12.5},{"p":6,"s":"Single Scatters (SS)","x":1747,"y":9.42,"lo":8.3,"hi":10.7},{"p":6,"s":"Single Scatters (SS)","x":1844,"y":7.18,"lo":6.19,"hi":8.33},{"p":6,"s":"Single Scatters (SS)","x":1941,"y":4.9,"lo":4.08,"hi":5.89},{"p":6,"s":"Single Scatters (SS)","x":2038,"y":2.99,"lo":2.38,"hi":3.76},{"p":6,"s":"Single Scatters (SS)","x":2135,"y":1.64,"lo":1.21,"hi":2.21},{"p":6,"s":"Single Scatters (SS)","x":2232,"y":0.853,"lo":0.538,"hi":1.35},{"p":6,"s":"Single Scatters (SS)","x":2309,"y":0.444,"lo":0.25,"hi":0.79},{"p":6,"s":"Single Scatters (SS)","x":2358,"y":0.2,"lo":0.1,"hi":0.4},{"p":6,"s":"Single Scatters (SS)","x":2450,"y":0.08,"lo":0.03,"hi":0.2},
{"p":6,"s":"MS (Passed Cut)","x":830,"y":0.1,"lo":0.05,"hi":0.2},{"p":6,"s":"MS (Passed Cut)","x":855,"y":0.2,"lo":0.112,"hi":0.356},{"p":6,"s":"MS (Passed Cut)","x":952,"y":0.687,"lo":0.453,"hi":1.04},{"p":6,"s":"MS (Passed Cut)","x":1049,"y":1.56,"lo":1.13,"hi":2.15},{"p":6,"s":"MS (Passed Cut)","x":1146,"y":2.69,"lo":2.08,"hi":3.48},{"p":6,"s":"MS (Passed Cut)","x":1243,"y":3.85,"lo":3.13,"hi":4.74},{"p":6,"s":"MS (Passed Cut)","x":1340,"y":4.57,"lo":3.8,"hi":5.49},{"p":6,"s":"MS (Passed Cut)","x":1437,"y":4.79,"lo":3.98,"hi":5.76},{"p":6,"s":"MS (Passed Cut)","x":1533,"y":4.39,"lo":3.65,"hi":5.28},{"p":6,"s":"MS (Passed Cut)","x":1630,"y":3.52,"lo":2.86,"hi":4.33},{"p":6,"s":"MS (Passed Cut)","x":1727,"y":2.69,"lo":2.14,"hi":3.39},{"p":6,"s":"MS (Passed Cut)","x":1824,"y":1.83,"lo":1.39,"hi":2.41},{"p":6,"s":"MS (Passed Cut)","x":1921,"y":1.12,"lo":0.813,"hi":1.54},{"p":6,"s":"MS (Passed Cut)","x":2018,"y":0.65,"lo":0.45,"hi":0.939},{"p":6,"s":"MS (Passed Cut)","x":2115,"y":0.356,"lo":0.235,"hi":0.539},{"p":6,"s":"MS (Passed Cut)","x":2212,"y":0.2,"lo":0.126,"hi":0.317},{"p":6,"s":"MS (Passed Cut)","x":2280,"y":0.1,"lo":0.06,"hi":0.2},
{"p":6,"s":"ER","x":1510,"y":0.15,"lo":0.135,"hi":0.166},{"p":6,"s":"ER","x":1533,"y":0.2,"lo":0.18,"hi":0.222},{"p":6,"s":"ER","x":1630,"y":0.377,"lo":0.34,"hi":0.418},{"p":6,"s":"ER","x":1727,"y":0.615,"lo":0.555,"hi":0.682},{"p":6,"s":"ER","x":1824,"y":1.06,"lo":0.956,"hi":1.18},{"p":6,"s":"ER","x":1921,"y":1.56,"lo":1.41,"hi":1.73},{"p":6,"s":"ER","x":2018,"y":2.16,"lo":1.95,"hi":2.4},{"p":6,"s":"ER","x":2115,"y":2.99,"lo":2.7,"hi":3.32},{"p":6,"s":"ER","x":2212,"y":3.52,"lo":3.17,"hi":3.9},{"p":6,"s":"ER","x":2309,"y":4.15,"lo":3.74,"hi":4.6},{"p":6,"s":"ER","x":2406,"y":4.39,"lo":3.96,"hi":4.87},{"p":6,"s":"ER","x":2503,"y":4.47,"lo":4.03,"hi":4.96},{"p":6,"s":"ER","x":2600,"y":4.57,"lo":4.12,"hi":5.07},{"p":6,"s":"ER","x":2697,"y":4.62,"lo":4.17,"hi":5.12},{"p":6,"s":"ER","x":2794,"y":4.57,"lo":4.12,"hi":5.07},{"p":6,"s":"ER","x":2891,"y":4.37,"lo":3.94,"hi":4.85},{"p":6,"s":"ER","x":2998,"y":3.63,"lo":3.27,"hi":4.03}
]
},
"spacing": 4,
"vconcat": [
{"spacing": 0, "vconcat": [
 {"spacing": 0, "hconcat": [
  {"width": 525, "height": 5, "data": {"values": []}, "mark": "point", "view": {"fill": "#00a3d6", "stroke": null}},
  {"width": 516, "height": 5, "data": {"values": []}, "mark": "point", "view": {"fill": "#ffc317", "stroke": null}},
  {"width": 384, "height": 5, "data": {"values": []}, "mark": "point", "view": {"fill": "#00a3d6", "stroke": null}}
 ]},
 {"width": 1425, "height": 9, "data": {"values": []}, "mark": "point", "view": {"fill": "#00a3d6", "stroke": null}}
]},
{"spacing": 0, "hconcat": [
{"width": 22, "height": 680, "data": {"values": []}, "mark": "point", "view": {"fill": "#00a3d6", "stroke": null}},
{"columns": 2, "spacing": 0, "bounds": "flush",
"resolve": {"scale": {"color": "independent", "fill": "independent"}, "legend": {"color": "independent", "fill": "independent"}},
"concat": [
{"width": 666, "height": 211, "resolve": {"axis": {"x": "independent", "y": "independent"}},
 "layer": [
  {"data": {"name": "curves"}, "transform": [{"filter": "datum.p == 1"}], "mark": {"type": "area", "fillOpacity": 0.35, "clip": true},
   "encoding": {"x": {"field": "x", "type": "quantitative", "scale": {"domain": [0, 3000]}, "axis": {"orient": "bottom", "values": [0,500,1000,1500,2000,2500,3000], "labels": false, "tickSize": -7, "title": null}},
    "y": {"field": "lo", "type": "quantitative", "scale": {"type": "log", "domain": [0.2, 200]}, "axis": {"orient": "left", "values": [1,10,100], "tickSize": -7, "labelPadding": 11, "labelExpr": "datum.value == 1 ? '10⁰' : datum.value == 10 ? '10¹' : '10²'", "title": null}},
    "y2": {"field": "hi"},
    "fill": {"field": "s", "type": "nominal", "scale": {"domain": ["ER", "MS (Passed Cut)", "Single Scatters (SS)", "Total"], "range": ["#ffa500", "#008000", "#ff0000", "#0000ff"]}, "legend": null}}},
  {"data": {"name": "curves"}, "transform": [{"filter": "datum.p == 1"}], "mark": {"type": "line", "strokeWidth": 2, "clip": true},
   "encoding": {"x": {"field": "x", "type": "quantitative", "scale": {"domain": [0, 3000]}, "axis": {"orient": "top", "values": [0,500,1000,1500,2000,2500,3000], "labels": false, "tickSize": -7, "title": null}},
    "y": {"field": "y", "type": "quantitative", "scale": {"type": "log", "domain": [0.2, 200]}, "axis": {"orient": "right", "values": [1,10,100], "labels": false, "tickSize": -7, "title": null}},
    "color": {"field": "s", "type": "nominal", "scale": {"domain": ["Total", "Single Scatters (SS)", "MS (Passed Cut)", "ER"], "range": ["#0000ff", "#ff0000", "#008000", "#ffa500"]},
      "legend": {"orient": "none", "legendX": 400, "legendY": 31, "title": null, "symbolType": "stroke", "symbolSize": 900, "symbolStrokeWidth": 2.5, "labelFontSize": 20, "labelOffset": 20, "rowPadding": 3, "padding": 0, "labelLimit": 400}}}},
  {"data": {"name": "points"}, "transform": [{"filter": "datum.p == 1"}], "mark": {"type": "rule", "strokeWidth": 2, "color": "#111", "clip": true},
   "encoding": {"x": {"field": "x", "type": "quantitative", "scale": {"domain": [0, 3000]}, "axis": null},
    "y": {"field": "lo", "type": "quantitative", "scale": {"type": "log", "domain": [0.2, 200]}, "axis": {"orient": "left", "values": [0.3,0.4,0.5,0.6,0.7,0.8,0.9,2,3,4,5,6,7,8,9,20,30,40,50,60,70,80,90], "labels": false, "tickSize": -4, "title": null}},
    "y2": {"field": "hi"}}},
  {"data": {"name": "points"}, "transform": [{"filter": "datum.p == 1"}], "mark": {"type": "tick", "orient": "horizontal", "size": 16, "thickness": 2, "color": "#111", "clip": true},
   "encoding": {"x": {"field": "x", "type": "quantitative", "scale": {"domain": [0, 3000]}, "axis": null},
    "y": {"field": "n", "type": "quantitative", "scale": {"type": "log", "domain": [0.2, 200]}, "axis": {"orient": "right", "values": [0.3,0.4,0.5,0.6,0.7,0.8,0.9,2,3,4,5,6,7,8,9,20,30,40,50,60,70,80,90], "labels": false, "tickSize": -4, "title": null}}}},
  {"data": {"name": "labels"}, "transform": [{"filter": "datum.p == 1"}], "mark": {"type": "text", "align": "right", "baseline": "middle", "fontSize": 20, "color": "#222"},
   "encoding": {"x": {"datum": 2800, "type": "quantitative", "scale": {"domain": [0, 3000]}, "axis": null}, "y": {"datum": 100, "type": "quantitative", "scale": {"type": "log", "domain": [0.2, 200]}, "axis": null}, "text": {"field": "label"}}}
 ]},
{"width": 666, "height": 211, "resolve": {"axis": {"x": "independent", "y": "independent"}},
 "layer": [
  {"data": {"name": "curves"}, "transform": [{"filter": "datum.p == 2"}], "mark": {"type": "area", "fillOpacity": 0.35, "clip": true},
   "encoding": {"x": {"field": "x", "type": "quantitative", "scale": {"domain": [0, 3000]}, "axis": {"orient": "bottom", "values": [0,500,1000,1500,2000,2500,3000], "labels": false, "tickSize": -7, "title": null}},
    "y": {"field": "lo", "type": "quantitative", "scale": {"type": "log", "domain": [0.2, 200]}, "axis": {"orient": "left", "values": [1,10,100], "labels": false, "tickSize": -7, "title": null}},
    "y2": {"field": "hi"},
    "fill": {"field": "s", "type": "nominal", "scale": {"domain": ["ER", "MS (Passed Cut)", "Single Scatters (SS)", "Total"], "range": ["#ffa500", "#008000", "#ff0000", "#0000ff"]}, "legend": null}}},
  {"data": {"name": "curves"}, "transform": [{"filter": "datum.p == 2"}], "mark": {"type": "line", "strokeWidth": 2, "clip": true},
   "encoding": {"x": {"field": "x", "type": "quantitative", "scale": {"domain": [0, 3000]}, "axis": {"orient": "top", "values": [0,500,1000,1500,2000,2500,3000], "labels": false, "tickSize": -7, "title": null}},
    "y": {"field": "y", "type": "quantitative", "scale": {"type": "log", "domain": [0.2, 200]}, "axis": {"orient": "right", "values": [1,10,100], "labels": false, "tickSize": -7, "title": null}},
    "color": {"field": "s", "type": "nominal", "scale": {"domain": ["Total", "Single Scatters (SS)", "MS (Passed Cut)", "ER"], "range": ["#0000ff", "#ff0000", "#008000", "#ffa500"]}, "legend": null}}},
  {"data": {"name": "points"}, "transform": [{"filter": "datum.p == 2"}], "mark": {"type": "rule", "strokeWidth": 2, "color": "#111", "clip": true},
   "encoding": {"x": {"field": "x", "type": "quantitative", "scale": {"domain": [0, 3000]}, "axis": null},
    "y": {"field": "lo", "type": "quantitative", "scale": {"type": "log", "domain": [0.2, 200]}, "axis": {"orient": "left", "values": [0.3,0.4,0.5,0.6,0.7,0.8,0.9,2,3,4,5,6,7,8,9,20,30,40,50,60,70,80,90], "labels": false, "tickSize": -4, "title": null}},
    "y2": {"field": "hi"}}},
  {"data": {"name": "points"}, "transform": [{"filter": "datum.p == 2"}], "mark": {"type": "tick", "orient": "horizontal", "size": 16, "thickness": 2, "color": "#111", "clip": true},
   "encoding": {"x": {"field": "x", "type": "quantitative", "scale": {"domain": [0, 3000]}, "axis": null},
    "y": {"field": "n", "type": "quantitative", "scale": {"type": "log", "domain": [0.2, 200]}, "axis": {"orient": "right", "values": [0.3,0.4,0.5,0.6,0.7,0.8,0.9,2,3,4,5,6,7,8,9,20,30,40,50,60,70,80,90], "labels": false, "tickSize": -4, "title": null}}}},
  {"data": {"name": "labels"}, "transform": [{"filter": "datum.p == 2"}], "mark": {"type": "text", "align": "right", "baseline": "middle", "fontSize": 20, "color": "#222"},
   "encoding": {"x": {"datum": 2800, "type": "quantitative", "scale": {"domain": [0, 3000]}, "axis": null}, "y": {"datum": 100, "type": "quantitative", "scale": {"type": "log", "domain": [0.2, 200]}, "axis": null}, "text": {"field": "label"}}}
 ]},
{"width": 666, "height": 211, "resolve": {"axis": {"x": "independent", "y": "independent"}},
 "layer": [
  {"data": {"name": "curves"}, "transform": [{"filter": "datum.p == 3"}], "mark": {"type": "area", "fillOpacity": 0.35, "clip": true},
   "encoding": {"x": {"field": "x", "type": "quantitative", "scale": {"domain": [0, 3000]}, "axis": {"orient": "bottom", "values": [0,500,1000,1500,2000,2500,3000], "labels": false, "tickSize": -7, "title": null}},
    "y": {"field": "lo", "type": "quantitative", "scale": {"type": "log", "domain": [0.2, 200]}, "axis": {"orient": "left", "values": [1,10,100], "tickSize": -7, "labelPadding": 11, "labelExpr": "datum.value == 1 ? '10⁰' : datum.value == 10 ? '10¹' : '10²'", "title": "Counts", "titleX": -55, "titleY": 138, "titleAngle": -90, "titleAlign": "center", "titleBaseline": "middle"}},
    "y2": {"field": "hi"},
    "fill": {"field": "s", "type": "nominal", "scale": {"domain": ["ER", "MS (Passed Cut)", "Single Scatters (SS)", "Total"], "range": ["#ffa500", "#008000", "#ff0000", "#0000ff"]}, "legend": null}}},
  {"data": {"name": "curves"}, "transform": [{"filter": "datum.p == 3"}], "mark": {"type": "line", "strokeWidth": 2, "clip": true},
   "encoding": {"x": {"field": "x", "type": "quantitative", "scale": {"domain": [0, 3000]}, "axis": {"orient": "top", "values": [0,500,1000,1500,2000,2500,3000], "labels": false, "tickSize": -7, "title": null}},
    "y": {"field": "y", "type": "quantitative", "scale": {"type": "log", "domain": [0.2, 200]}, "axis": {"orient": "right", "values": [1,10,100], "labels": false, "tickSize": -7, "title": null}},
    "color": {"field": "s", "type": "nominal", "scale": {"domain": ["Total", "Single Scatters (SS)", "MS (Passed Cut)", "ER"], "range": ["#0000ff", "#ff0000", "#008000", "#ffa500"]}, "legend": null}}},
  {"data": {"name": "points"}, "transform": [{"filter": "datum.p == 3"}], "mark": {"type": "rule", "strokeWidth": 2, "color": "#111", "clip": true},
   "encoding": {"x": {"field": "x", "type": "quantitative", "scale": {"domain": [0, 3000]}, "axis": null},
    "y": {"field": "lo", "type": "quantitative", "scale": {"type": "log", "domain": [0.2, 200]}, "axis": {"orient": "left", "values": [0.3,0.4,0.5,0.6,0.7,0.8,0.9,2,3,4,5,6,7,8,9,20,30,40,50,60,70,80,90], "labels": false, "tickSize": -4, "title": null}},
    "y2": {"field": "hi"}}},
  {"data": {"name": "points"}, "transform": [{"filter": "datum.p == 3"}], "mark": {"type": "tick", "orient": "horizontal", "size": 16, "thickness": 2, "color": "#111", "clip": true},
   "encoding": {"x": {"field": "x", "type": "quantitative", "scale": {"domain": [0, 3000]}, "axis": null},
    "y": {"field": "n", "type": "quantitative", "scale": {"type": "log", "domain": [0.2, 200]}, "axis": {"orient": "right", "values": [0.3,0.4,0.5,0.6,0.7,0.8,0.9,2,3,4,5,6,7,8,9,20,30,40,50,60,70,80,90], "labels": false, "tickSize": -4, "title": null}}}},
  {"data": {"name": "labels"}, "transform": [{"filter": "datum.p == 3"}], "mark": {"type": "text", "align": "right", "baseline": "middle", "fontSize": 20, "color": "#222"},
   "encoding": {"x": {"datum": 2800, "type": "quantitative", "scale": {"domain": [0, 3000]}, "axis": null}, "y": {"datum": 100, "type": "quantitative", "scale": {"type": "log", "domain": [0.2, 200]}, "axis": null}, "text": {"field": "label"}}}
 ]},
{"width": 666, "height": 211, "resolve": {"axis": {"x": "independent", "y": "independent"}},
 "layer": [
  {"data": {"name": "curves"}, "transform": [{"filter": "datum.p == 4"}], "mark": {"type": "area", "fillOpacity": 0.35, "clip": true},
   "encoding": {"x": {"field": "x", "type": "quantitative", "scale": {"domain": [0, 3000]}, "axis": {"orient": "bottom", "values": [0,500,1000,1500,2000,2500,3000], "labels": false, "tickSize": -7, "title": null}},
    "y": {"field": "lo", "type": "quantitative", "scale": {"type": "log", "domain": [0.2, 200]}, "axis": {"orient": "left", "values": [1,10,100], "labels": false, "tickSize": -7, "title": null}},
    "y2": {"field": "hi"},
    "fill": {"field": "s", "type": "nominal", "scale": {"domain": ["ER", "MS (Passed Cut)", "Single Scatters (SS)", "Total"], "range": ["#ffa500", "#008000", "#ff0000", "#0000ff"]}, "legend": null}}},
  {"data": {"name": "curves"}, "transform": [{"filter": "datum.p == 4"}], "mark": {"type": "line", "strokeWidth": 2, "clip": true},
   "encoding": {"x": {"field": "x", "type": "quantitative", "scale": {"domain": [0, 3000]}, "axis": {"orient": "top", "values": [0,500,1000,1500,2000,2500,3000], "labels": false, "tickSize": -7, "title": null}},
    "y": {"field": "y", "type": "quantitative", "scale": {"type": "log", "domain": [0.2, 200]}, "axis": {"orient": "right", "values": [1,10,100], "labels": false, "tickSize": -7, "title": null}},
    "color": {"field": "s", "type": "nominal", "scale": {"domain": ["Total", "Single Scatters (SS)", "MS (Passed Cut)", "ER"], "range": ["#0000ff", "#ff0000", "#008000", "#ffa500"]}, "legend": null}}},
  {"data": {"name": "points"}, "transform": [{"filter": "datum.p == 4"}], "mark": {"type": "rule", "strokeWidth": 2, "color": "#111", "clip": true},
   "encoding": {"x": {"field": "x", "type": "quantitative", "scale": {"domain": [0, 3000]}, "axis": null},
    "y": {"field": "lo", "type": "quantitative", "scale": {"type": "log", "domain": [0.2, 200]}, "axis": {"orient": "left", "values": [0.3,0.4,0.5,0.6,0.7,0.8,0.9,2,3,4,5,6,7,8,9,20,30,40,50,60,70,80,90], "labels": false, "tickSize": -4, "title": null}},
    "y2": {"field": "hi"}}},
  {"data": {"name": "points"}, "transform": [{"filter": "datum.p == 4"}], "mark": {"type": "tick", "orient": "horizontal", "size": 16, "thickness": 2, "color": "#111", "clip": true},
   "encoding": {"x": {"field": "x", "type": "quantitative", "scale": {"domain": [0, 3000]}, "axis": null},
    "y": {"field": "n", "type": "quantitative", "scale": {"type": "log", "domain": [0.2, 200]}, "axis": {"orient": "right", "values": [0.3,0.4,0.5,0.6,0.7,0.8,0.9,2,3,4,5,6,7,8,9,20,30,40,50,60,70,80,90], "labels": false, "tickSize": -4, "title": null}}}},
  {"data": {"name": "labels"}, "transform": [{"filter": "datum.p == 4"}], "mark": {"type": "text", "align": "right", "baseline": "middle", "fontSize": 20, "color": "#222"},
   "encoding": {"x": {"datum": 2800, "type": "quantitative", "scale": {"domain": [0, 3000]}, "axis": null}, "y": {"datum": 100, "type": "quantitative", "scale": {"type": "log", "domain": [0.2, 200]}, "axis": null}, "text": {"field": "label"}}}
 ]},
{"width": 666, "height": 211, "resolve": {"axis": {"x": "independent", "y": "independent"}},
 "layer": [
  {"data": {"name": "curves"}, "transform": [{"filter": "datum.p == 5"}], "mark": {"type": "area", "fillOpacity": 0.35, "clip": true},
   "encoding": {"x": {"field": "x", "type": "quantitative", "scale": {"domain": [0, 3000]}, "axis": {"orient": "bottom", "values": [0,500,1000,1500,2000,2500,3000], "tickSize": -7, "labelPadding": 8, "format": "d", "title": "Corrected S2 Bottom [PE]", "titleFontSize": 19, "titleX": 658, "titleY": 32, "titleAlign": "center", "titleBaseline": "middle"}},
    "y": {"field": "lo", "type": "quantitative", "scale": {"type": "log", "domain": [0.2, 200]}, "axis": {"orient": "left", "values": [1,10,100], "tickSize": -7, "labelPadding": 11, "labelExpr": "datum.value == 1 ? '10⁰' : datum.value == 10 ? '10¹' : '10²'", "title": null}},
    "y2": {"field": "hi"},
    "fill": {"field": "s", "type": "nominal", "scale": {"domain": ["ER", "MS (Passed Cut)", "Single Scatters (SS)", "Total"], "range": ["#ffa500", "#008000", "#ff0000", "#0000ff"]}, "legend": null}}},
  {"data": {"name": "curves"}, "transform": [{"filter": "datum.p == 5"}], "mark": {"type": "line", "strokeWidth": 2, "clip": true},
   "encoding": {"x": {"field": "x", "type": "quantitative", "scale": {"domain": [0, 3000]}, "axis": {"orient": "top", "values": [0,500,1000,1500,2000,2500,3000], "labels": false, "tickSize": -7, "title": null}},
    "y": {"field": "y", "type": "quantitative", "scale": {"type": "log", "domain": [0.2, 200]}, "axis": {"orient": "right", "values": [1,10,100], "labels": false, "tickSize": -7, "title": null}},
    "color": {"field": "s", "type": "nominal", "scale": {"domain": ["Total", "Single Scatters (SS)", "MS (Passed Cut)", "ER"], "range": ["#0000ff", "#ff0000", "#008000", "#ffa500"]}, "legend": null}}},
  {"data": {"name": "points"}, "transform": [{"filter": "datum.p == 5"}], "mark": {"type": "rule", "strokeWidth": 2, "color": "#111", "clip": true},
   "encoding": {"x": {"field": "x", "type": "quantitative", "scale": {"domain": [0, 3000]}, "axis": null},
    "y": {"field": "lo", "type": "quantitative", "scale": {"type": "log", "domain": [0.2, 200]}, "axis": {"orient": "left", "values": [0.3,0.4,0.5,0.6,0.7,0.8,0.9,2,3,4,5,6,7,8,9,20,30,40,50,60,70,80,90], "labels": false, "tickSize": -4, "title": null}},
    "y2": {"field": "hi"}}},
  {"data": {"name": "points"}, "transform": [{"filter": "datum.p == 5"}], "mark": {"type": "tick", "orient": "horizontal", "size": 16, "thickness": 2, "color": "#111", "clip": true},
   "encoding": {"x": {"field": "x", "type": "quantitative", "scale": {"domain": [0, 3000]}, "axis": null},
    "y": {"field": "n", "type": "quantitative", "scale": {"type": "log", "domain": [0.2, 200]}, "axis": {"orient": "right", "values": [0.3,0.4,0.5,0.6,0.7,0.8,0.9,2,3,4,5,6,7,8,9,20,30,40,50,60,70,80,90], "labels": false, "tickSize": -4, "title": null}}}},
  {"data": {"name": "labels"}, "transform": [{"filter": "datum.p == 5"}], "mark": {"type": "text", "align": "right", "baseline": "middle", "fontSize": 20, "color": "#222"},
   "encoding": {"x": {"datum": 2800, "type": "quantitative", "scale": {"domain": [0, 3000]}, "axis": null}, "y": {"datum": 100, "type": "quantitative", "scale": {"type": "log", "domain": [0.2, 200]}, "axis": null}, "text": {"field": "label"}}}
 ]},
{"width": 666, "height": 211, "resolve": {"axis": {"x": "independent", "y": "independent"}},
 "layer": [
  {"data": {"name": "curves"}, "transform": [{"filter": "datum.p == 6"}], "mark": {"type": "area", "fillOpacity": 0.35, "clip": true},
   "encoding": {"x": {"field": "x", "type": "quantitative", "scale": {"domain": [0, 3000]}, "axis": {"orient": "bottom", "values": [500,1000,1500,2000,2500], "tickSize": -7, "labelPadding": 8, "format": "d", "title": null}},
    "y": {"field": "lo", "type": "quantitative", "scale": {"type": "log", "domain": [0.2, 200]}, "axis": {"orient": "left", "values": [1,10,100], "labels": false, "tickSize": -7, "title": null}},
    "y2": {"field": "hi"},
    "fill": {"field": "s", "type": "nominal", "scale": {"domain": ["ER", "MS (Passed Cut)", "Single Scatters (SS)", "Total"], "range": ["#ffa500", "#008000", "#ff0000", "#0000ff"]}, "legend": null}}},
  {"data": {"name": "curves"}, "transform": [{"filter": "datum.p == 6"}], "mark": {"type": "line", "strokeWidth": 2, "clip": true},
   "encoding": {"x": {"field": "x", "type": "quantitative", "scale": {"domain": [0, 3000]}, "axis": {"orient": "top", "values": [0,500,1000,1500,2000,2500,3000], "labels": false, "tickSize": -7, "title": null}},
    "y": {"field": "y", "type": "quantitative", "scale": {"type": "log", "domain": [0.2, 200]}, "axis": {"orient": "right", "values": [1,10,100], "labels": false, "tickSize": -7, "title": null}},
    "color": {"field": "s", "type": "nominal", "scale": {"domain": ["Total", "Single Scatters (SS)", "MS (Passed Cut)", "ER"], "range": ["#0000ff", "#ff0000", "#008000", "#ffa500"]}, "legend": null}}},
  {"data": {"name": "points"}, "transform": [{"filter": "datum.p == 6"}], "mark": {"type": "rule", "strokeWidth": 2, "color": "#111", "clip": true},
   "encoding": {"x": {"field": "x", "type": "quantitative", "scale": {"domain": [0, 3000]}, "axis": null},
    "y": {"field": "lo", "type": "quantitative", "scale": {"type": "log", "domain": [0.2, 200]}, "axis": {"orient": "left", "values": [0.3,0.4,0.5,0.6,0.7,0.8,0.9,2,3,4,5,6,7,8,9,20,30,40,50,60,70,80,90], "labels": false, "tickSize": -4, "title": null}},
    "y2": {"field": "hi"}}},
  {"data": {"name": "points"}, "transform": [{"filter": "datum.p == 6"}], "mark": {"type": "tick", "orient": "horizontal", "size": 16, "thickness": 2, "color": "#111", "clip": true},
   "encoding": {"x": {"field": "x", "type": "quantitative", "scale": {"domain": [0, 3000]}, "axis": null},
    "y": {"field": "n", "type": "quantitative", "scale": {"type": "log", "domain": [0.2, 200]}, "axis": {"orient": "right", "values": [0.3,0.4,0.5,0.6,0.7,0.8,0.9,2,3,4,5,6,7,8,9,20,30,40,50,60,70,80,90], "labels": false, "tickSize": -4, "title": null}}}},
  {"data": {"name": "labels"}, "transform": [{"filter": "datum.p == 6"}], "mark": {"type": "text", "align": "right", "baseline": "middle", "fontSize": 20, "color": "#222"},
   "encoding": {"x": {"datum": 2800, "type": "quantitative", "scale": {"domain": [0, 3000]}, "axis": null}, "y": {"datum": 100, "type": "quantitative", "scale": {"type": "log", "domain": [0.2, 200]}, "axis": null}, "text": {"field": "label"}}}
 ]}
]},
{"width": 5, "height": 680, "data": {"values": []}, "mark": "point", "view": {"fill": "#00a3d6", "stroke": null}}
]}
],
"config": {
 "font": "DejaVu Sans",
 "view": {"stroke": "#555", "strokeWidth": 1.2},
 "axis": {"grid": false, "domain": false, "tickColor": "#444", "tickWidth": 1, "labelColor": "#222", "labelFont": "DejaVu Sans", "labelFontSize": 19, "titleFont": "DejaVu Sans", "titleFontSize": 20, "titleFontWeight": "normal", "titleColor": "#222", "labelFlush": false, "labelOverlap": false},
 "legend": {"labelFont": "DejaVu Sans", "labelColor": "#222"}
}
}
